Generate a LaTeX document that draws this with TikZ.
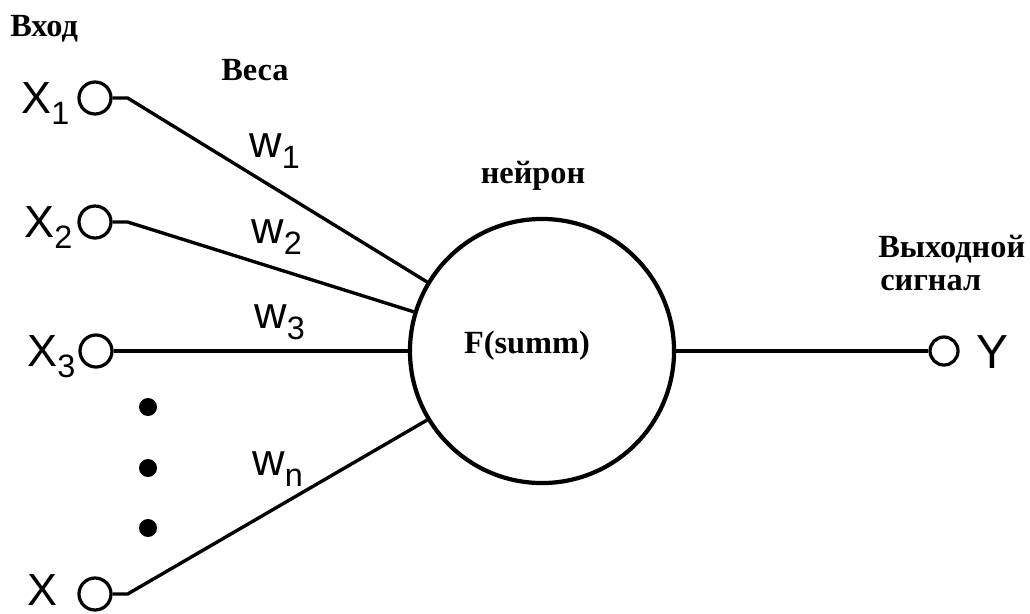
\documentclass[tikz,border=0pt]{standalone}
\usepackage{fontspec}
\setmainfont{Liberation Serif}
\newfontfamily\arialfont{Liberation Sans}
\usepackage{tikz}
\usetikzlibrary{positioning, calc}
\newcommand{\lowidx}[1]{\raisebox{-8pt}{\fontsize{23}{23}\selectfont #1}}
\tikzset{
  port/.style={circle, draw=black, fill=white, minimum size=0.8cm,
    inner sep=0pt, line width=2.3pt},
  neuron/.style={circle, draw=black, fill=white, minimum size=6.6cm,
    inner sep=0pt, line width=3pt},
  blob/.style={circle, fill=black, minimum size=0.45cm, inner sep=0pt},
  wire/.style={line width=2.4pt, color=black},
  hdr/.style={font=\fontsize{23}{26}\selectfont\bfseries, inner sep=0pt},
  sym/.style={font=\arialfont\fontsize{32}{32}\selectfont, inner sep=0pt}
}
\begin{document}
\begin{tikzpicture}[x=0.025cm, y=-0.025cm]
  \useasboundingbox (0,0) rectangle (1030,613);

  % Inputs
  \node[port] (x1) at (95,98) {};
  \node[port] (x2) at (95,222) {};
  \node[port] (x3) at (96,351) {};
  \node[port] (xn) at (95,594) {};
  \node[sym, anchor=base west] (x1lbl) at (21,113) {X\lowidx{1}};
  \node[sym, anchor=base west] (x2lbl) at (24,237) {X\lowidx{2}};
  \node[sym, anchor=base west] (x3lbl) at (27,366) {X\lowidx{3}};
  \node[sym, anchor=base west] (xnlbl) at (27,605) {X};
  \foreach \yy in {407,468,528}
    \node[blob] (dot\yy) at (148,\yy) {};

  % Neuron
  \node[neuron] (nrn) at (542,351) {};
  \node[hdr, anchor=base] (flbl) at (527,353) {F(summ)};

  % Weighted links
  \draw[wire] (x1.east) -- ++(15,0) -- (nrn.149);
  \draw[wire] (x2.east) -- ++(15,0) -- (nrn.163);
  \draw[wire] (x3.east) -- (nrn.west);
  \draw[wire] (xn.east) -- ++(15,0) -- (nrn.211);
  \node[sym, anchor=base west] (w1) at (249,157) {w\lowidx{1}};
  \node[sym, anchor=base west] (w2) at (251,243) {w\lowidx{2}};
  \node[sym, anchor=base west] (w3) at (254,328) {w\lowidx{3}};
  \node[sym, anchor=base west] (wn) at (252,475) {w\lowidx{n}};

  % Output
  \node[port, minimum size=0.7cm] (out) at (944,351) {};
  \draw[wire] (nrn.east) -- (out.west);
  \node[sym, anchor=base west, font=\arialfont\fontsize{34}{34}\selectfont] (ylbl) at (976,368) {Y};

  % Captions
  \node[hdr, anchor=base west] (inlbl) at (10,36) {Вход};
  \node[hdr, anchor=base west] (wtlbl) at (221,80) {Веса};
  \node[hdr, anchor=base] (nlbl) at (533,183) {нейрон};
  \node[hdr, anchor=base west] (outlbl) at (878,257) {Выходной};
  \node[hdr, anchor=base west] (siglbl) at (880,290) {сигнал};
\end{tikzpicture}
\end{document}
